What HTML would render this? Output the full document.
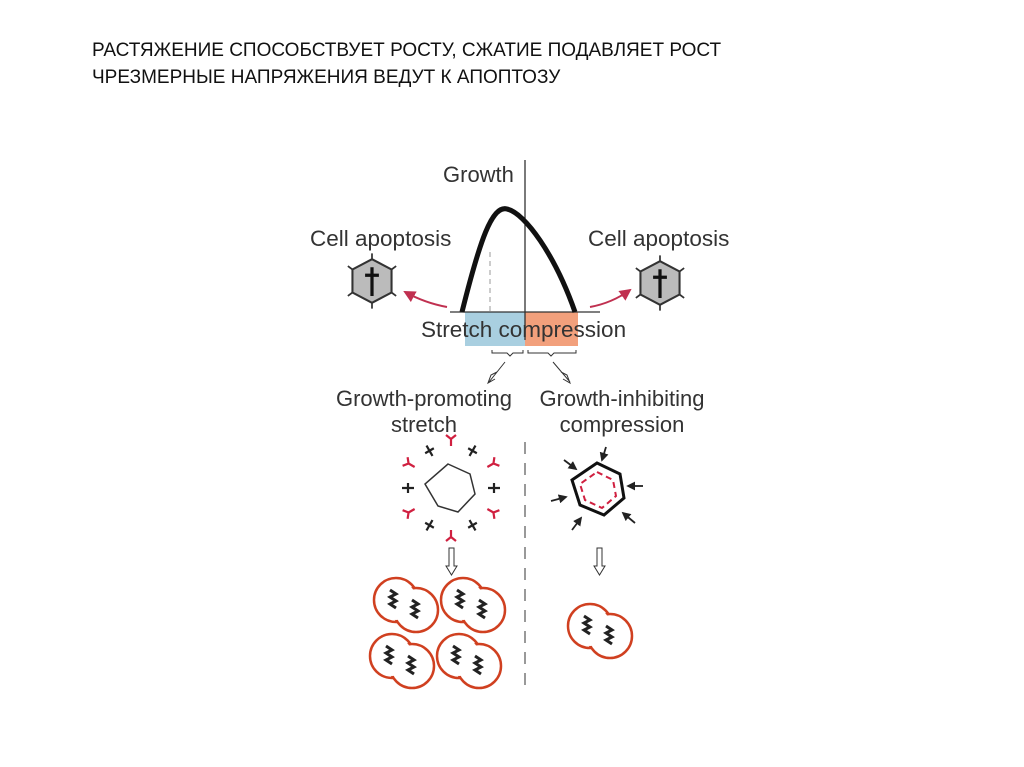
<!DOCTYPE html>
<html><head><meta charset="utf-8"><style>
body{margin:0;background:#fff;width:1024px;height:767px;overflow:hidden;font-family:"Liberation Sans",sans-serif}
.t{position:absolute;left:92px;font-size:19px;color:#111;letter-spacing:0px}
</style></head><body>
<div class="t" style="top:40px">РАСТЯЖЕНИЕ СПОСОБСТВУЕТ РОСТУ, СЖАТИЕ ПОДАВЛЯЕТ РОСТ</div>
<div class="t" style="top:67px">ЧРЕЗМЕРНЫЕ НАПРЯЖЕНИЯ ВЕДУТ К АПОПТОЗУ</div>
<svg width="1024" height="767" style="position:absolute;left:0;top:0" font-family="Liberation Sans,sans-serif" fill="#333">
<defs>
<marker id="ra" markerWidth="6" markerHeight="6" refX="5" refY="3" orient="auto"><path d="M0,0L6,3L0,6z" fill="#c03050"/></marker>
<marker id="ba" markerWidth="5" markerHeight="5" refX="4" refY="2.5" orient="auto"><path d="M0,0L5,2.5L0,5z" fill="#222"/></marker>
<g id="pair"><circle cx="-10" cy="-4" r="22" fill="#fff" stroke="#d04020" stroke-width="2.5"/><circle cx="10" cy="6" r="22" fill="#fff" stroke="#d04020" stroke-width="2.5"/><circle cx="-10" cy="-4" r="20" fill="#fff"/>
<path d="M-16,-14l6,4-6,3 6,4-6,3 6,4" stroke="#222" stroke-width="3" fill="none"/><path d="M6,-4l6,4-6,3 6,4-6,3 6,4" stroke="#222" stroke-width="3" fill="none"/></g>
<g id="dead"><polygon points="0,-19 17,-10 17,10 0,19 -17,10 -17,-10" fill="#bbb" stroke="#333" stroke-width="1.8"/><path d="M0,-12V13M-6,-5H6" stroke="#111" stroke-width="2.8"/>
<path d="M0,-19v-5M17,-10l4,-3M17,10l4,3M0,19v5M-17,10l-4,3M-17,-10l-4,-3" stroke="#333" stroke-width="1.5"/></g>
<g id="yr"><path d="M0,0v-7M0,-7l-5,-4M0,-7l5,-4" stroke="#d02040" stroke-width="2.2" fill="none"/></g>
<g id="tb"><path d="M0,-9v12M-5,-3h10" stroke="#222" stroke-width="2.2"/></g>
</defs>
<rect x="465" y="312" width="60" height="34" fill="#a9cfe0"/>
<rect x="525" y="312" width="53" height="34" fill="#f2a07c"/>
<line x1="525" y1="160" x2="525" y2="340" stroke="#333" stroke-width="1.3"/>
<line x1="450" y1="312" x2="600" y2="312" stroke="#333" stroke-width="1.3"/>
<line x1="490" y1="252" x2="490" y2="312" stroke="#999" stroke-dasharray="5,4"/>
<path d="M462,312 C480,240 492,205 507,209 C525,213 555,255 575,312" stroke="#111" stroke-width="5" fill="none"/>
<text x="443" y="182" font-size="22">Growth</text>
<text x="310" y="246" font-size="22.5">Cell apoptosis</text>
<text x="588" y="246" font-size="22.5">Cell apoptosis</text>
<text x="421" y="337" font-size="22.5">Stretch compression</text>
<use href="#dead" transform="translate(372,281) scale(1.15)"/><use href="#dead" transform="translate(660,283) scale(1.15)"/>
<path d="M447,307 Q425,303 405,292" stroke="#c03050" stroke-width="2" fill="none" marker-end="url(#ra)"/>
<path d="M590,307 Q612,303 630,290" stroke="#c03050" stroke-width="2" fill="none" marker-end="url(#ra)"/>
<path d="M492,350v3h15l3,3 3,-3h10v-3M528,350v3h20l3,3 3,-3h22v-3" stroke="#333" fill="none"/>
<path d="M505,362 L489,382 M497,372l-6,3 -3,8 7,-4" stroke="#333" fill="none"/>
<path d="M553,362 L570,382 M561,372l6,3 3,8 -7,-4" stroke="#333" fill="none"/>
<g font-size="22" text-anchor="middle"><text x="424" y="406">Growth-promoting</text><text x="424" y="432">stretch</text>
<text x="622" y="406">Growth-inhibiting</text><text x="622" y="432">compression</text></g>
<line x1="525" y1="442" x2="525" y2="692" stroke="#999" stroke-width="2" stroke-dasharray="12,9"/>
<polygon points="448,464 470,474 475,494 458,512 438,506 425,484" fill="none" stroke="#333" stroke-width="1.5"/>
<g transform="translate(451,488)">
<use href="#yr" transform="rotate(0) translate(0,-42)"/>
<use href="#tb" transform="rotate(30) translate(0,-40)"/>
<use href="#yr" transform="rotate(60) translate(0,-42)"/>
<use href="#tb" transform="rotate(90) translate(0,-40)"/>
<use href="#yr" transform="rotate(120) translate(0,-42)"/>
<use href="#tb" transform="rotate(150) translate(0,-40)"/>
<use href="#yr" transform="rotate(180) translate(0,-42)"/>
<use href="#tb" transform="rotate(210) translate(0,-40)"/>
<use href="#yr" transform="rotate(240) translate(0,-42)"/>
<use href="#tb" transform="rotate(270) translate(0,-40)"/>
<use href="#yr" transform="rotate(300) translate(0,-42)"/>
<use href="#tb" transform="rotate(330) translate(0,-40)"/>
</g>
<polygon points="597,463 620,474 624,498 604,515 580,505 572,480" fill="none" stroke="#111" stroke-width="3"/>
<polygon points="597,472 613,480 616,496 602,508 585,500 580,484" fill="none" stroke="#d02040" stroke-width="2" stroke-dasharray="6,4"/>
<g stroke="#222" stroke-width="1.8">
<line x1="606" y1="447" x2="602" y2="460" marker-end="url(#ba)"/>
<line x1="643" y1="486" x2="628" y2="486" marker-end="url(#ba)"/>
<line x1="635" y1="523" x2="623" y2="513" marker-end="url(#ba)"/>
<line x1="572" y1="530" x2="581" y2="518" marker-end="url(#ba)"/>
<line x1="551" y1="501" x2="566" y2="497" marker-end="url(#ba)"/>
<line x1="564" y1="460" x2="576" y2="469" marker-end="url(#ba)"/>
</g>
<path d="M449,548h5v18h3l-5.5,9 -5.5,-9h3z" fill="#fff" stroke="#333"/>
<path d="M597,548h5v18h3l-5.5,9 -5.5,-9h3z" fill="#fff" stroke="#333"/>
<use href="#pair" x="406" y="604"/><use href="#pair" x="473" y="604"/>
<use href="#pair" x="402" y="660"/><use href="#pair" x="469" y="660"/>
<use href="#pair" x="600" y="630"/>
</svg>
</body></html>
